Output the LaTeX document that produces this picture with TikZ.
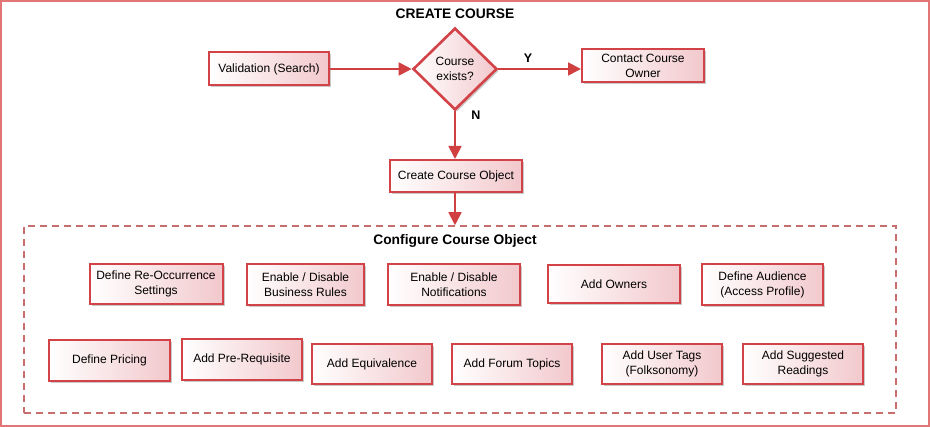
\documentclass[tikz,border=0pt]{standalone}
\usepackage{fontspec}
\setmainfont{Liberation Sans}
\usetikzlibrary{shapes.geometric,arrows.meta,shadows}
\definecolor{boxred}{RGB}{210,66,70}
\definecolor{arrred}{RGB}{208,64,64}
\definecolor{frame}{RGB}{226,118,118}
\definecolor{dashc}{RGB}{200,110,110}
\definecolor{pinkf}{RGB}{242,200,204}
\tikzset{
  box/.style={draw=boxred, line width=2pt, left color=white, right color=pinkf,
    drop shadow={shadow xshift=2pt, shadow yshift=-2pt, fill=black!35, opacity=0.6},
    align=center, inner sep=1pt, font=\fontsize{12}{15}\selectfont},
  dec/.style={diamond, draw=boxred, line width=2.6pt, left color=white, right color=pinkf,
    drop shadow={shadow xshift=2pt, shadow yshift=-2pt, fill=black!35, opacity=0.6},
    align=center, inner sep=0pt, minimum width=84, minimum height=82,
    font=\fontsize{12}{15}\selectfont},
  arr/.style={draw=arrred, line width=1.8pt, -{Triangle[length=13pt,width=13pt]}},
  lbl/.style={font=\bfseries\fontsize{12.5}{14}\selectfont},
  ttl/.style={font=\bfseries\fontsize{13.8}{16}\selectfont}
}
\begin{document}
\begin{tikzpicture}[x=1pt,y=-1pt]
\useasboundingbox (0,0) rectangle (930,427);
\draw[frame, line width=2pt] (1,1) rectangle (929,426);
\node[ttl] (title) at (455,14) {CREATE COURSE};

\node[box, minimum width=120, minimum height=33] (val) at (269,69) {Validation (Search)};
\node[dec] (dia) at (455,69) {Course\\exists?};
\node[box, minimum width=122, minimum height=33] (own) at (643,66) {Contact Course\\Owner};
\node[box, minimum width=132, minimum height=32] (cco) at (456,176) {Create Course Object};

\node[draw=dashc, line width=1.5pt, dash pattern=on 7pt off 5pt, minimum width=872, minimum height=187, inner sep=0pt] (cfg) at (460,319.5) {};
\node[ttl] (cfgt) at (455,241) {Configure Course Object};

\draw[arr] (val.east) -- (dia.west);
\draw[arr] (dia.east) -- (dia.east -| own.west);
\draw[arr] (dia.south) -- (dia.south |- cco.north);
\draw[arr] (cco.south -| dia.south) -- (dia.south |- cfg.north);
\node[lbl] (ly) at (528,58) {Y};
\node[lbl] (ln) at (476,115) {N};

% row 1
\node[box, minimum width=133, minimum height=40] (r1a) at (156,284) {Define Re-Occurrence\\Settings};
\node[box, minimum width=117, minimum height=41] (r1b) at (305.5,284.5) {Enable / Disable\\Business Rules};
\node[box, minimum width=132, minimum height=41] (r1c) at (454,284.5) {Enable / Disable\\Notifications};
\node[box, minimum width=132, minimum height=38] (r1d) at (614,284) {Add Owners};
\node[box, minimum width=121, minimum height=41] (r1e) at (762.5,284.5) {Define Audience\\(Access Profile)};

% row 2
\node[box, minimum width=121, minimum height=41] (r2a) at (109.5,360.5) {Define Pricing};
\node[box, minimum width=120, minimum height=41] (r2b) at (242,359.5) {Add Pre-Requisite};
\node[box, minimum width=120, minimum height=40] (r2c) at (372,364) {Add Equivalence};
\node[box, minimum width=120, minimum height=40] (r2d) at (512,364) {Add Forum Topics};
\node[box, minimum width=120, minimum height=40] (r2e) at (662,364) {Add User Tags\\(Folksonomy)};
\node[box, minimum width=120, minimum height=40] (r2f) at (803,364) {Add Suggested\\Readings};
\end{tikzpicture}
\end{document}
